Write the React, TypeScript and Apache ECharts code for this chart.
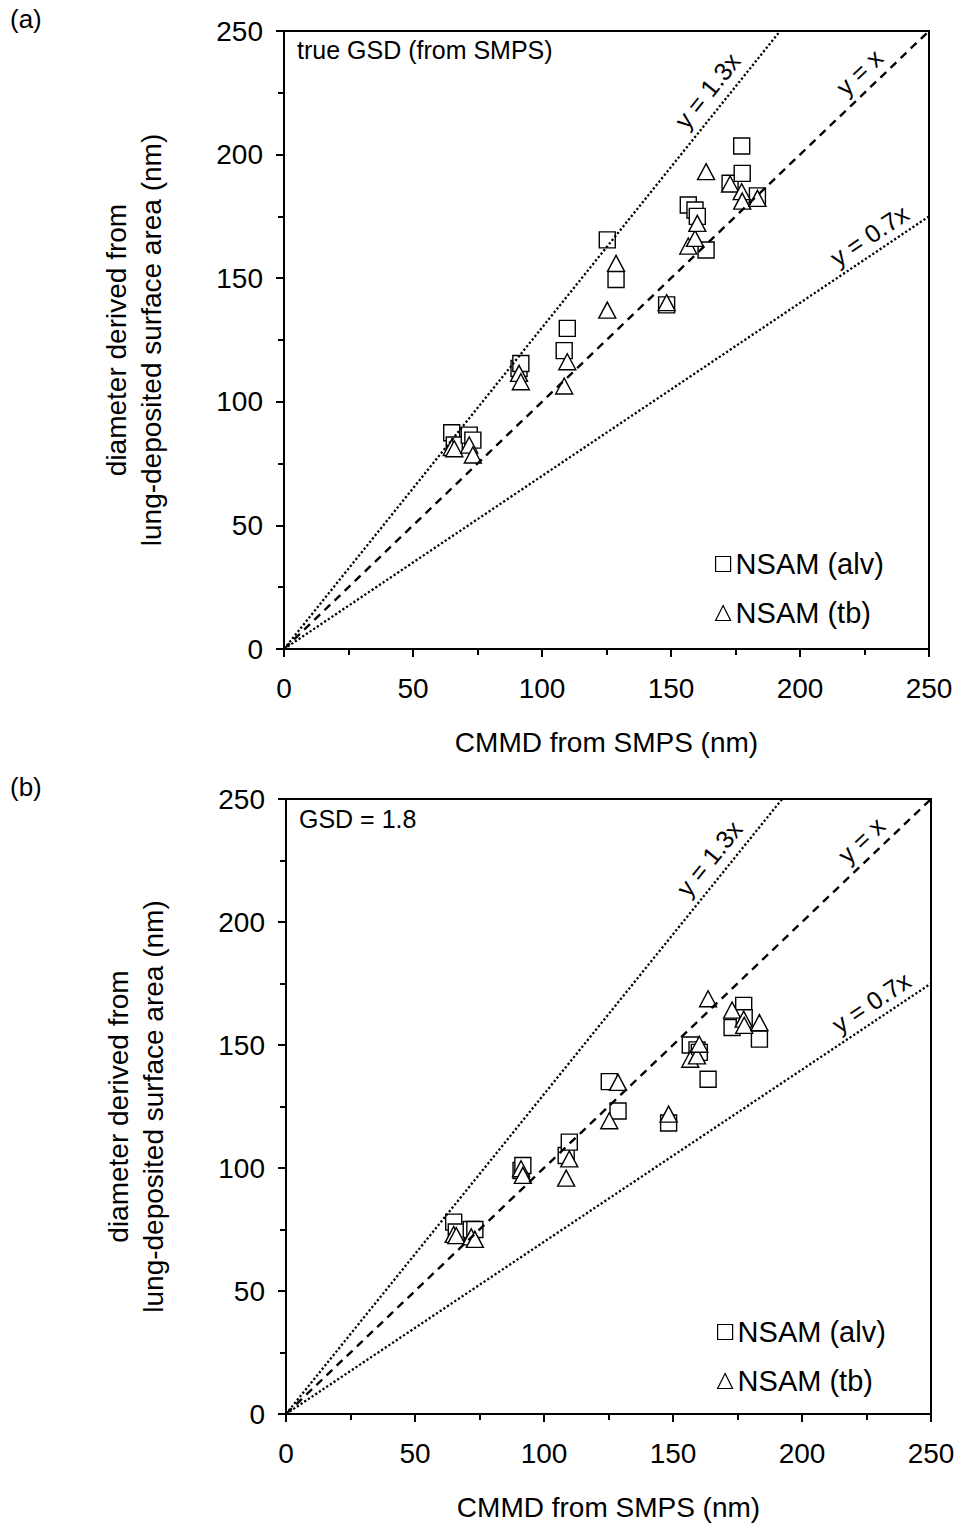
import React, { useEffect, useRef } from "react";
import * as echarts from "echarts";

// CMMD from SMPS (nm) – shared by both panels
const cmmd = [65.0, 66.0, 71.8, 73.2, 91.1, 91.8, 108.6, 109.8, 125.3, 128.7, 148.3, 156.7, 159.3, 160.2, 163.6, 172.9, 177.4, 177.6, 183.5];
// panel (a): true GSD (from SMPS)
const alvTrue = [87.5, 82.5, 86.5, 84.5, 113.5, 115.5, 120.7, 129.7, 165.5, 149.5, 139.2, 179.6, 177.6, 175.0, 161.4, 188.4, 203.5, 192.4, 183.3];
const tbTrue = [81.5, 81.0, 82.5, 78.5, 111.5, 108.1, 106.4, 116.2, 137.1, 156.0, 140.1, 163.0, 166.1, 172.2, 193.1, 188.1, 185.0, 181.2, 182.3];
// panel (b): GSD = 1.8
const alvGsd = [78.0, 74.0, 75.0, 75.0, 99.0, 101.0, 105.1, 110.5, 135.1, 123.2, 118.3, 150.0, 148.0, 147.0, 136.1, 157.1, 166.1, 161.1, 152.4];
const tbGsd = [73.0, 72.5, 72.0, 71.0, 99.7, 97.0, 95.9, 103.7, 119.2, 134.8, 121.9, 144.2, 145.6, 150.3, 168.8, 164.2, 160.5, 158.0, 159.1];

const seriesNames = ["NSAM (alv)", "NSAM (tb)"];
const panelLabels = ["(a)", "(b)"];
const panelNotes = ["true GSD (from SMPS)", "GSD = 1.8"];
const refSlopes = [1.3, 1, 0.7];
const refLabels = ["y = 1.3x", "y = x", "y = 0.7x"];
const axisMax = 250;
const axisInterval = 50;
const xName = "CMMD from SMPS (nm)";
const yName = "diameter derived from\nlung-deposited surface area (nm)";

const FONT = "'Liberation Sans', Arial, Helvetica, sans-serif";

const grids = [
  { left: 284, top: 31, width: 645, height: 618 },
  { left: 286, top: 799, width: 645, height: 617 },
];

function makeAxis(idx: number, isX: boolean) {
  return {
    type: "value",
    gridIndex: idx,
    min: 0,
    max: axisMax,
    interval: axisInterval,
    name: isX ? xName : yName,
    nameLocation: "middle",
    nameGap: isX ? 76 : 115,
    nameTextStyle: {
      fontFamily: FONT,
      fontSize: 28,
      color: "#000",
      lineHeight: 35,
    },
    axisLine: { show: true, onZero: false, lineStyle: { color: "#000", width: 2 } },
    axisTick: { show: true, inside: false, length: 8, lineStyle: { color: "#000", width: 2 } },
    minorTick: { show: true, splitNumber: 2, length: 6, lineStyle: { color: "#000", width: 2 } },
    splitLine: { show: false },
    minorSplitLine: { show: false },
    axisLabel: {
      fontFamily: FONT,
      fontSize: 28,
      color: "#000",
      margin: isX ? 25 : 21,
    },
  };
}

function refLineSeries(idx: number) {
  const data = refSlopes.map((s, k) => {
    const end = s > 1 ? [axisMax / s, axisMax] : [axisMax, axisMax * s];
    const dashed = s === 1;
    return [
      {
        coord: [0, 0],
        lineStyle: dashed
          ? { type: [8, 6], width: 2.4, color: "#000" }
          : { type: [2.2, 2.2], width: 2.3, color: "#000" },
        label: {
          show: true,
          formatter: refLabels[k],
          position: "insideEndTop",
          distance: s < 1 ? [16, 5] : s > 1 ? [48, 7] : [52, 6],
          fontFamily: FONT,
          fontSize: 25,
          color: "#000",
        },
      },
      { coord: end },
    ];
  });
  return {
    type: "scatter",
    name: "ref" + idx,
    xAxisIndex: idx,
    yAxisIndex: idx,
    data: [],
    z: 1,
    silent: true,
    markLine: {
      silent: true,
      symbol: ["none", "none"],
      animation: false,
      data,
    },
  };
}

function pointSeries(idx: number, k: number, vals: number[]) {
  return {
    type: "scatter",
    name: seriesNames[k],
    xAxisIndex: idx,
    yAxisIndex: idx,
    symbol: k === 0 ? "rect" : "triangle",
    symbolSize: k === 0 ? 16 : [17, 16],
    itemStyle: { color: "#fff", borderColor: "#000", borderWidth: 1.4, opacity: 1 },
    z: 2 + k,
    data: cmmd.map((x, i) => [x, vals[i]]),
  };
}

function makeLegend(idx: number) {
  return {
    show: true,
    orient: "vertical",
    left: grids[idx].left + 426,
    top: grids[idx].top + 513,
    itemWidth: 15,
    itemHeight: 15,
    itemGap: 19,
    selectedMode: false,
    textStyle: { fontFamily: FONT, fontSize: 29, color: "#000", lineHeight: 30 },
    itemStyle: { color: "#fff", borderColor: "#000", borderWidth: 1.2 },
    data: [
      { name: seriesNames[0], icon: "rect" },
      { name: seriesNames[1], icon: "triangle" },
    ],
  };
}

export default function App() {
  const ref = useRef<HTMLDivElement>(null);
  useEffect(() => {
    if (!ref.current) return;
    const chart = echarts.init(ref.current, null, { renderer: "svg" });
    const option = {
      animation: false,
      backgroundColor: "#fff",
      textStyle: { fontFamily: FONT },
      grid: grids.map((g) => ({
        ...g,
        show: true,
        borderColor: "#000",
        borderWidth: 2,
        backgroundColor: "transparent",
      })),
      xAxis: [makeAxis(0, true), makeAxis(1, true)],
      yAxis: [makeAxis(0, false), makeAxis(1, false)],
      legend: [makeLegend(0), makeLegend(1)],
      graphic: [
        { type: "text", left: 10, top: 6, style: { text: panelLabels[0], font: `26px ${FONT}`, fill: "#000" } },
        { type: "text", left: 10, top: 774, style: { text: panelLabels[1], font: `26px ${FONT}`, fill: "#000" } },
        { type: "text", left: 297, top: 37, style: { text: panelNotes[0], font: `25px ${FONT}`, fill: "#000" } },
        { type: "text", left: 299, top: 806, style: { text: panelNotes[1], font: `25px ${FONT}`, fill: "#000" } },
      ],
      series: [
        refLineSeries(0),
        pointSeries(0, 0, alvTrue),
        pointSeries(0, 1, tbTrue),
        refLineSeries(1),
        pointSeries(1, 0, alvGsd),
        pointSeries(1, 1, tbGsd),
      ],
    };
    chart.setOption(option as any);
    return () => chart.dispose();
  }, []);
  return (
    <div
      ref={ref}
      style={{ position: "absolute", left: 0, top: 0, width: 958, height: 1526 }}
    />
  );
}
